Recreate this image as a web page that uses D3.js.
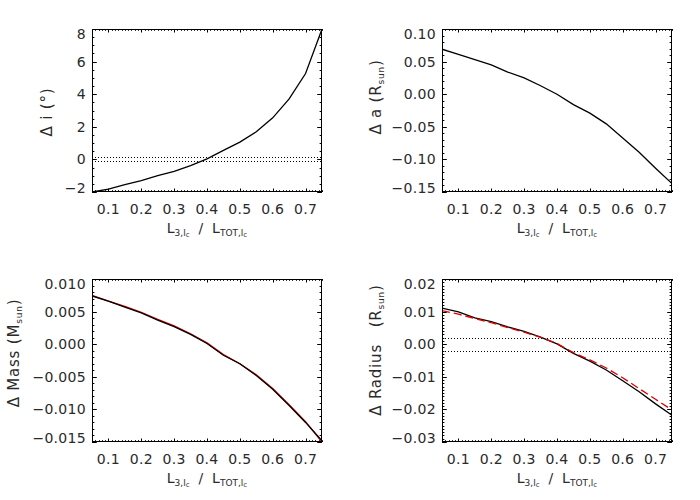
<!DOCTYPE html>
<html>
<head>
<meta charset="utf-8">
<script src="https://cdn.jsdelivr.net/npm/d3@7"></script>
<style>
  body { margin: 0; background: #fff; }
  text { font-family: "DejaVu Sans", sans-serif; fill: #2a2a2a; }
</style>
</head>
<body>
<svg id="fig" width="700" height="500"></svg>
<script>
// third light fraction L3 / Ltot (x of every panel)
const lFrac = [0.05, 0.10, 0.15, 0.20, 0.25, 0.30, 0.35, 0.40, 0.45, 0.50, 0.55, 0.60, 0.65, 0.70, 0.75];

// delta inclination (deg)
const dIncl = [-2.00, -1.82, -1.55, -1.30, -1.00, -0.73, -0.38, 0.03, 0.55, 1.06, 1.70, 2.55, 3.71, 5.27, 8.00];
// delta separation (Rsun)
const dSep = [0.069, 0.061, 0.053, 0.045, 0.034, 0.025, 0.013, 0.000, -0.016, -0.029, -0.0455, -0.067, -0.089, -0.1135, -0.137];
// delta mass (Msun), black and red curves
const dMassBlack = [0.0074, 0.0066, 0.0057, 0.0048, 0.0037, 0.0027, 0.0015, 0.0001, -0.0017, -0.0030, -0.0048, -0.0069, -0.0094, -0.0120, -0.0148];
const dMassRed = [0.0075, 0.0066, 0.0058, 0.0049, 0.0038, 0.0028, 0.0016, 0.0002, -0.0016, -0.0030, -0.0047, -0.0068, -0.0093, -0.0119, -0.0150];
// delta radius (Rsun), black solid and red dashed
const dRadBlack = [0.0111, 0.0099, 0.0081, 0.0069, 0.0053, 0.0039, 0.0022, 0.0001, -0.0028, -0.0052, -0.0079, -0.0112, -0.0146, -0.0183, -0.0218];
const dRadRed = [0.0103, 0.0092, 0.0079, 0.0066, 0.0051, 0.0037, 0.0021, 0.0002, -0.0026, -0.0048, -0.0073, -0.0103, -0.0136, -0.0169, -0.0202];

// dotted tolerance lines
const inclBand = [-0.12, 0.12];
const radBand = [-0.002, 0.002];

const xDomain = [0.05, 0.75];
const W = 230, H = 163;

const svg = d3.select("#fig");

const panels = [
  { x0: 92, y0: 29, ydom: [-2, 8], ystep: 2, yminor: 4, fmt: d3.format("d"),
    series: [{ v: dIncl, color: "#000" }], band: inclBand, titleX: 52, titleY: 112,
    title: [["Δ i (°)"]] },
  { x0: 442, y0: 29, ydom: [-0.15, 0.10], ystep: 0.05, yminor: 5, fmt: d3.format(".2f"),
    series: [{ v: dSep, color: "#000" }], band: null, titleX: 381, titleY: 97,
    title: [["Δ a (R"], ["sun", "sub"], [")"]] },
  { x0: 92, y0: 279, ydom: [-0.015, 0.010], ystep: 0.005, yminor: 5, fmt: d3.format(".3f"),
    series: [{ v: dMassRed, color: "#e00000" }, { v: dMassBlack, color: "#000" }], band: null, titleX: 19, titleY: 353,
    title: [["Δ Mass (M"], ["sun", "sub"], [")"]] },
  { x0: 442, y0: 279, ydom: [-0.03, 0.02], ystep: 0.01, yminor: 10, fmt: d3.format(".2f"),
    series: [{ v: dRadBlack, color: "#000" }, { v: dRadRed, color: "#e00000", dash: "8,4" }], band: radBand, titleX: 381, titleY: 350,
    title: [["Δ Radius   (R"], ["sun", "sub"], [")"]] }
];

function stepTicks(scale, step) {
  const [a, b] = d3.extent(scale.domain());
  const out = [];
  for (let k = Math.ceil(a / step - 1e-6); k * step <= b + step * 1e-6; k++) out.push(+(k * step).toFixed(10));
  return out;
}

panels.forEach((p, pi) => {
  const g = svg.append("g").attr("transform", `translate(${p.x0},${p.y0})`);
  const x = d3.scaleLinear().domain(xDomain).range([0, W]);
  const y = d3.scaleLinear().domain(p.ydom).range([H, 0]);

  g.append("clipPath").attr("id", "clip" + pi)
    .append("rect").attr("width", W).attr("height", H);

  // ticks on all four sides, pointing inward
  const tk = g.append("g").attr("stroke", "#000").attr("stroke-width", 1);
  const xMaj = stepTicks(x, 0.1), xMin = stepTicks(x, 0.01);
  const yMaj = stepTicks(y, p.ystep), yMin = stepTicks(y, p.ystep / p.yminor);
  const vt = (list, len) => list.forEach(t => {
    const px = Math.round(x(t)) + 0.5;
    tk.append("line").attr("x1", px).attr("x2", px).attr("y1", H).attr("y2", H - len);
    tk.append("line").attr("x1", px).attr("x2", px).attr("y1", 0).attr("y2", len);
  });
  const ht = (list, len) => list.forEach(t => {
    const py = Math.round(y(t)) + 0.5;
    tk.append("line").attr("y1", py).attr("y2", py).attr("x1", 0).attr("x2", len);
    tk.append("line").attr("y1", py).attr("y2", py).attr("x1", W).attr("x2", W - len);
  });
  vt(xMin, 1.8); vt(xMaj, 3.5);
  ht(yMin, 2.4); ht(yMaj, 4.8);

  // dotted tolerance band
  if (p.band) {
    p.band.forEach(b => {
      g.append("line")
        .attr("x1", 0).attr("x2", W)
        .attr("y1", Math.round(y(b)) + 0.5).attr("y2", Math.round(y(b)) + 0.5)
        .attr("stroke", "#000").attr("stroke-width", 1)
        .attr("stroke-dasharray", "1,2");
    });
  }

  // data curves
  const line = d3.line().x((d, i) => x(lFrac[i])).y(d => y(d));
  p.series.forEach(s => {
    g.append("path")
      .attr("clip-path", `url(#clip${pi})`)
      .attr("d", line(s.v))
      .attr("fill", "none")
      .attr("stroke", s.color)
      .attr("stroke-width", 1.3)
      .attr("stroke-dasharray", s.dash || null);
  });

  // frame
  g.append("rect")
    .attr("x", 0.5).attr("y", 0.5).attr("width", W - 1).attr("height", H - 1)
    .attr("fill", "none").attr("stroke", "#000").attr("stroke-width", 1);

  // tick labels
  g.selectAll(".xl").data(xMaj).join("text")
    .attr("x", d => x(d)).attr("y", H + 22)
    .attr("text-anchor", "middle").attr("font-size", 14)
    .attr("letter-spacing", 0.3)
    .text(d3.format(".1f"));
  g.selectAll(".yl").data(yMaj).join("text")
    .attr("x", -6).attr("y", d => Math.min(H - 4.5, Math.max(5, y(d))))
    .attr("dy", "0.36em")
    .attr("text-anchor", "end").attr("font-size", 14)
    .attr("letter-spacing", 0.3)
    .text(p.fmt);

  // x title: L_{3,lc} / L_{TOT,lc}
  const xt = g.append("text").attr("x", W / 2).attr("y", H + 41)
    .attr("text-anchor", "middle").attr("font-size", 14)
    .style("white-space", "pre");
  xt.append("tspan").text("L");
  xt.append("tspan").attr("font-size", 9).attr("dy", 3).text("3,l");
  xt.append("tspan").attr("font-size", 7).attr("dy", 1).text("c");
  xt.append("tspan").attr("dy", -4).text("  /  L");
  xt.append("tspan").attr("font-size", 9).attr("dy", 3).text("TOT,l");
  xt.append("tspan").attr("font-size", 7).attr("dy", 1).text("c");

  // y title (rotated)
  const yt = svg.append("text")
    .attr("transform", `translate(${p.titleX},${p.titleY}) rotate(-90)`)
    .attr("text-anchor", "middle").attr("font-size", 15)
    .attr("letter-spacing", 0.8)
    .style("white-space", "pre");
  let shift = 0;
  p.title.forEach(([txt, kind]) => {
    const ts = yt.append("tspan").text(txt);
    if (kind === "sub") { ts.attr("font-size", 9).attr("dy", 3); shift = 3; }
    else if (shift) { ts.attr("dy", -shift); shift = 0; }
  });
});
</script>
</body>
</html>
